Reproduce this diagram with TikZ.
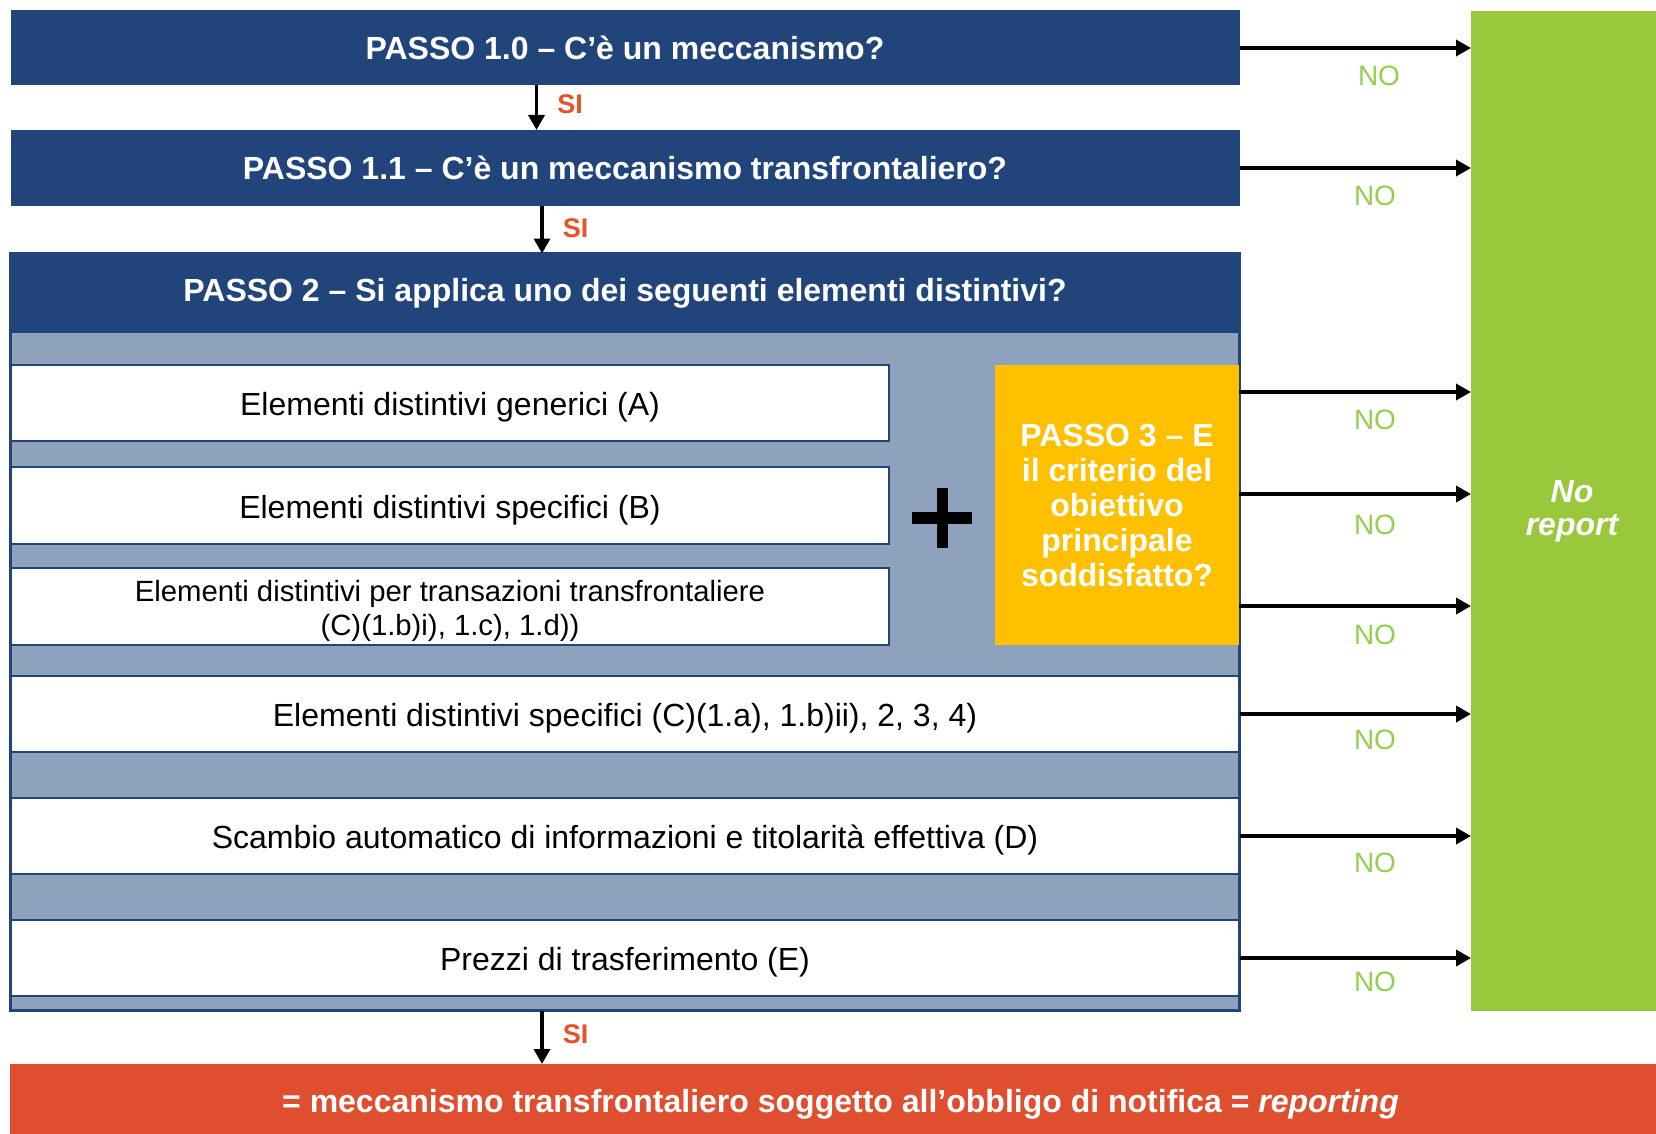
\documentclass[tikz,border=0pt]{standalone}
\usepackage{fontspec}
\setmainfont{Liberation Sans}
\usetikzlibrary{arrows.meta}
\definecolor{dblue}{RGB}{33,69,122}
\definecolor{gblue}{RGB}{143,162,189}
\definecolor{yel}{RGB}{255,192,0}
\definecolor{grn}{RGB}{154,200,60}
\definecolor{redb}{RGB}{224,78,48}
\definecolor{sired}{RGB}{232,82,40}
\definecolor{nogrn}{RGB}{146,208,80}
\begin{document}
\begin{tikzpicture}[x=1pt,y=-1pt,
  hdr/.style={rectangle, fill=dblue, text=white, font=\fontsize{32}{35}\selectfont\bfseries,
    inner sep=0pt, outer sep=0pt, align=center},
  elem/.style={rectangle, fill=white, draw=dblue, line width=2.5pt, font=\fontsize{32}{35}\selectfont,
    inner sep=0pt, outer sep=0pt, align=center, text height=31.8pt},
  arr/.style={line width=3.5pt, -{Triangle[length=15pt,width=16pt]}},
  nolab/.style={text=nogrn, font=\fontsize{28}{30}\selectfont},
  silab/.style={text=sired, font=\fontsize{27}{30}\selectfont\bfseries}
]
\useasboundingbox (0,0) rectangle (1656,1134);
\fill[white] (0,0) rectangle (1656,1134);

% green no report
\node[rectangle, fill=grn, inner sep=0pt, outer sep=0pt, minimum width=185pt, minimum height=1000pt,
  text=white, font=\fontsize{32}{33}\selectfont\bfseries\itshape, align=center]
  (green) at (1563.5,511) {\hspace*{17pt}No\\\hspace*{17pt}report};

% steps 1.0 and 1.1
\node[hdr, minimum width=1229pt, minimum height=75pt] (p10) at (625,48) {PASSO 1.0 – C’è un meccanismo?};
\node[hdr, minimum width=1229pt, minimum height=76pt] (p11) at (625,168) {PASSO 1.1 – C’è un meccanismo transfrontaliero?};

% step 2 region
\node[rectangle, fill=gblue, draw=dblue, line width=2.5pt, inner sep=0pt, outer sep=0pt,
  minimum width=1229pt, minimum height=757pt] (grp) at (625,632) {};
\node[hdr, minimum width=1229pt, minimum height=79pt] (p2) at (625,293) {PASSO 2 – Si applica uno dei seguenti elementi distintivi?};

\node[elem, minimum width=878pt, minimum height=76pt] (ea) at (450,403) {Elementi distintivi generici (A)};
\node[elem, minimum width=878pt, minimum height=77pt] (eb) at (450,505.5) {Elementi distintivi specifici (B)};
\node[elem, minimum width=878pt, minimum height=77pt, text height=, font=\fontsize{29.3}{34.9}\selectfont] (ec) at (450,606.5)
  {\rule{0pt}{30pt}Elementi distintivi per transazioni transfrontaliere\\(C)(1.b)i), 1.c), 1.d))};
\node[elem, minimum width=1229pt, minimum height=76pt] (ec2) at (625,714) {Elementi distintivi specifici (C)(1.a), 1.b)ii), 2, 3, 4)};
\node[elem, minimum width=1229pt, minimum height=76pt] (ed) at (625,836) {Scambio automatico di informazioni e titolarità effettiva (D)};
\node[elem, minimum width=1229pt, minimum height=76pt] (ee) at (625,958) {Prezzi di trasferimento (E)};

% step 3
\node[rectangle, fill=yel, inner sep=0pt, outer sep=0pt, minimum width=244pt, minimum height=280pt,
  text=white, font=\fontsize{32}{35}\selectfont\bfseries, align=center]
  (p3) at (1117,505) {PASSO 3 – E\\il criterio del\\obiettivo\\principale\\soddisfatto?};

% plus sign
\draw[line width=12pt] (912,518) -- (972,518);
\draw[line width=11pt] (942,488) -- (942,548);

% result
\node[rectangle, fill=redb, inner sep=0pt, outer sep=0pt, minimum width=1646pt, minimum height=70pt,
  text=white, font=\fontsize{32}{35}\selectfont\bfseries, text height=33pt]
  (res) at (833,1099) {\hspace*{15pt}= meccanismo transfrontaliero soggetto all’obbligo di notifica = \textit{reporting}};

% SI arrows
\coordinate (s1) at (536.5,0);
\coordinate (s2) at (542,0);
\draw[arr] (p10.south -| s1) -- (p11.north -| s1);
\draw[arr] (p11.south -| s2) -- (p2.north -| s2);
\draw[arr] (grp.south -| s2) -- (res.north -| s2);
\node[silab] (si1) at (570,104.5) {SI};
\node[silab] (si2) at (575.5,228) {SI};
\node[silab] (si3) at (575.5,1034) {SI};

% NO arrows
\coordinate (y1) at (1239,392);
\coordinate (y2) at (1239,494);
\coordinate (y3) at (1239,606);
\draw[arr] (p10.east) -- (p10.east -| green.west);
\draw[arr] (p11.east) -- (p11.east -| green.west);
\draw[arr] (y1) -- (y1 -| green.west);
\draw[arr] (y2) -- (y2 -| green.west);
\draw[arr] (y3) -- (y3 -| green.west);
\draw[arr] (ec2.east) -- (ec2.east -| green.west);
\draw[arr] (ed.east) -- (ed.east -| green.west);
\draw[arr] (ee.east) -- (ee.east -| green.west);

\node[nolab] (n1) at (1379,76) {NO};
\node[nolab] (n2) at (1375,195.5) {NO};
\node[nolab] (n3) at (1375,420) {NO};
\node[nolab] (n4) at (1375,525) {NO};
\node[nolab] (n5) at (1375,635) {NO};
\node[nolab] (n6) at (1375,740) {NO};
\node[nolab] (n7) at (1375,863) {NO};
\node[nolab] (n8) at (1375,982) {NO};
\end{tikzpicture}
\end{document}
